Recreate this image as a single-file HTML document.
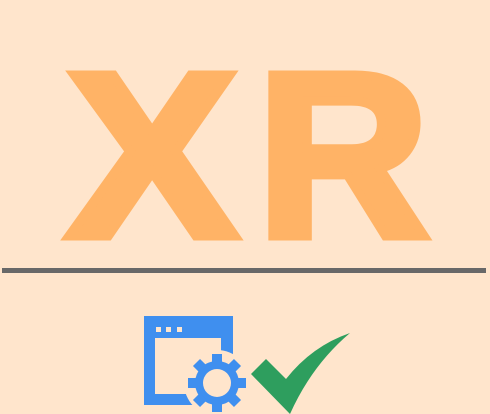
<!DOCTYPE html>
<html><head><meta charset="utf-8"><style>
html,body{margin:0;padding:0;background:#FFE5CC;}
svg{display:block}
</style></head><body>
<svg width="490" height="414" viewBox="0 0 490 414" xmlns="http://www.w3.org/2000/svg">
<rect width="490" height="414" fill="#FFE5CC"/>
<g font-family="Liberation Sans, sans-serif" font-weight="bold" font-size="234" fill="#FFB366" stroke="#FFB366" stroke-width="9" stroke-linejoin="miter">
<text x="67" y="236" textLength="170" lengthAdjust="spacingAndGlyphs">X</text>
<text x="257" y="236" textLength="172" lengthAdjust="spacingAndGlyphs">R</text>
</g>
<rect x="2" y="268" width="484" height="5" fill="#686868"/>
<rect x="144" y="316" width="89" height="89" fill="#3F8FEF"/>
<rect x="155" y="338" width="66" height="56" fill="#FFE5CC"/>
<rect x="156" y="327" width="5" height="5" fill="#FFE5CC"/>
<rect x="166" y="327" width="5" height="5" fill="#FFE5CC"/>
<rect x="177" y="327" width="5" height="5" fill="#FFE5CC"/>
<circle cx="217" cy="383" r="33" fill="#FFE5CC"/>
<g fill="#3F8FEF" transform="translate(217,383)">
<circle r="22"/>
<g id="t"><rect x="-5" y="-29" width="10" height="10"/></g>
<use href="#t" transform="rotate(45)"/>
<use href="#t" transform="rotate(90)"/>
<use href="#t" transform="rotate(135)"/>
<use href="#t" transform="rotate(180)"/>
<use href="#t" transform="rotate(225)"/>
<use href="#t" transform="rotate(270)"/>
<use href="#t" transform="rotate(315)"/>
<circle r="14" fill="#FFE5CC"/>
</g>
<path d="M251,374 L266,359 L286,379 Q312,346 350,333 Q312,365 290,414 Z" fill="#2E9E5E"/>
</svg>
</body></html>
